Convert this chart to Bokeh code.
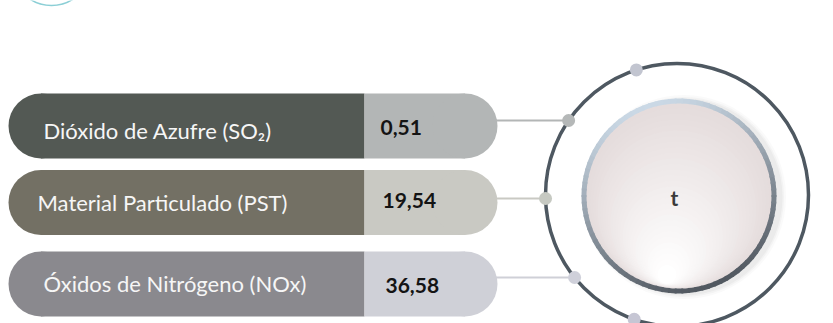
import numpy as np
from bokeh.plotting import figure
from bokeh.models import Range1d
from bokeh.core.properties import value
from bokeh.embed import file_html
from bokeh.resources import INLINE

# ---------------- data ----------------
categories = ["Dióxido de Azufre (SO₂)", "Material Particulado (PST)", "Óxidos de Nitrógeno (NOx)"]
values = [0.51, 19.54, 36.58]
center_label = "t"
dark_colors = ["#535954", "#737064", "#8a898e"]
light_colors = ["#b3b6b6", "#c9c9c3", "#cfd0d7"]
dot_colors = ["#b5b8b8", "#c6c9c2", "#cfd0da"]

value_labels = [f"{v:.2f}".replace(".", ",") for v in values]

# ---------------- layout (page pixels) ----------------
W, H = 833, 323
def X(px):
    return px
def Y(py):
    return H - py

row_cy = [125.5, 202.0, 283.5]
pill_h = 65.0
pill_left, pill_split, pill_right = 8.0, 364.0, 497.0
label_x = [43, 37, 43]
label_mid = [130.0, 202.0, 283.0]
value_x = [380, 382, 385]
value_mid = [126.5, 200.0, 285.0]
conn_y = [120.0, 198.0, 277.0]

ring_cx, ring_cy, ring_r = 676.5, 194.5, 131.5
in_cx, in_cy, in_r = 678.5, 195.5, 97.5

p = figure(width=W, height=H, output_backend="svg", toolbar_location=None,
           x_range=Range1d(0, W), y_range=Range1d(0, H),
           x_axis_type=None, y_axis_type=None, min_border=0)
p.grid.visible = False
p.outline_line_color = None
p.background_fill_color = "white"
p.border_fill_color = "white"

# decorative teal arc (top-left, mostly outside the view)
p.arc(x=[X(51)], y=[Y(-35)], radius=40, start_angle=np.deg2rad(-128), end_angle=np.deg2rad(-52),
      line_color="#8ccfd6", line_width=1.5)

r = pill_h / 2
for i in range(len(categories)):
    cy = Y(row_cy[i])
    # dark part
    p.circle([X(pill_left + r)], [cy], radius=r, fill_color=dark_colors[i], line_color=None)
    p.quad(left=[X(pill_left + r)], right=[X(pill_split)], top=[cy + r], bottom=[cy - r],
           fill_color=dark_colors[i], line_color=None)
    # light part
    p.quad(left=[X(pill_split)], right=[X(pill_right - r)], top=[cy + r], bottom=[cy - r],
           fill_color=light_colors[i], line_color=None)
    p.circle([X(pill_right - r)], [cy], radius=r, fill_color=light_colors[i], line_color=None)
    # label and value
    p.text([X(label_x[i])], [Y(label_mid[i])], text=[categories[i]],
           text_font=value("Lato"), text_font_size="22px", text_color="#f6f6f6",
           text_align="left", text_baseline="middle")
    p.text([X(value_x[i])], [Y(value_mid[i])], text=[value_labels[i]],
           text_font=value("Lato"), text_font_style="bold", text_font_size="21px",
           text_color="#141414", text_align="left", text_baseline="middle")

# outer ring
p.circle([X(ring_cx)], [Y(ring_cy)], radius=ring_r, fill_color=None,
         line_color="#4e5861", line_width=3.5)

# connectors and dots
dxs, dys = [], []
for i in range(len(categories)):
    dy = conn_y[i] - ring_cy
    dx = ring_cx - np.sqrt(ring_r ** 2 - dy ** 2)
    p.segment(x0=[X(pill_right - 2)], y0=[Y(conn_y[i])], x1=[X(dx)], y1=[Y(conn_y[i])],
              line_color=light_colors[i], line_width=2)
    dxs.append(X(dx)); dys.append(Y(conn_y[i]))
p.circle(dxs, dys, radius=6.5, fill_color=dot_colors, line_color=None)
extra_ang = np.deg2rad([108.0, 251.0])
p.circle(X(ring_cx) + ring_r * np.cos(extra_ang), Y(ring_cy) + ring_r * np.sin(extra_ang),
         radius=6.5, fill_color=["#c2c5d0", "#c6c6d4"], line_color=None)

# inner circle shadow
for rad, a in [(102, 0.04), (100, 0.05), (98.5, 0.06)]:
    p.circle([X(in_cx) + 5], [Y(in_cy) - 1], radius=rad, fill_color="#777777",
             fill_alpha=a, line_color=None)

# inner circle gradient fill
base_r = in_r - 4
top_rgb = np.array([229, 220, 220])
bot_rgb = np.array([255, 255, 255])
N = 30
for k in range(N):
    t = k / (N - 1)
    rad = base_r * (1 - 0.9 * t)
    off = (base_r - rad) * 0.95
    cx = X(in_cx) - 0.15 * off
    cy = Y(in_cy) - 0.98 * off
    c = (top_rgb + (bot_rgb - top_rgb) * t).astype(int)
    p.circle([cx], [cy], radius=rad, fill_color="#%02x%02x%02x" % tuple(c), line_color=None)

# inner circle border (gradient ring)
M = 90
angs = np.linspace(0, 2 * np.pi, M + 1)
light = np.array([203, 217, 230])
dark = np.array([82, 89, 97])
cols = []
for a0, a1 in zip(angs[:-1], angs[1:]):
    am = (a0 + a1) / 2
    f = (1 - np.cos(am - np.deg2rad(110))) / 2
    c = (light + (dark - light) * f).astype(int)
    cols.append("#%02x%02x%02x" % tuple(c))
p.annular_wedge(x=[X(in_cx)] * M, y=[Y(in_cy)] * M, inner_radius=in_r - 5, outer_radius=in_r,
                start_angle=angs[:-1] - 0.01, end_angle=angs[1:] + 0.01,
                fill_color=cols, line_color=None)

p.text([X(674)], [Y(197)], text=[center_label], text_font=value("Lato"),
       text_font_style="bold", text_font_size="21px", text_color="#3a3a3a",
       text_align="center", text_baseline="middle")

open("out.html", "w").write(file_html(p, INLINE))
